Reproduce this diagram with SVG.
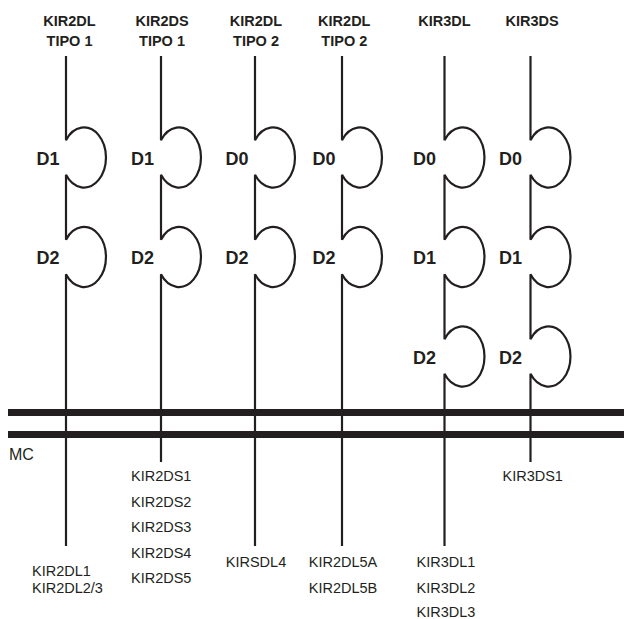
<svg xmlns="http://www.w3.org/2000/svg" width="624" height="619" viewBox="0 0 624 619">
<style>
.bg{fill:#fff}
.ln{fill:none;stroke:#231f20;stroke-width:2.2}
.bar{fill:#231f20}
.hd{font-family:"Liberation Sans",Arial,sans-serif;font-weight:bold;font-size:14.5px;fill:#231f20;text-anchor:middle}
.dm{font-family:"Liberation Sans",Arial,sans-serif;font-weight:bold;font-size:18px;fill:#231f20;text-anchor:end}
.lb{font-family:"Liberation Sans",Arial,sans-serif;font-size:14.5px;fill:#231f20;text-anchor:middle}
.mc{font-family:"Liberation Sans",Arial,sans-serif;font-size:16px;fill:#231f20}
</style>
<rect class="bg" x="0" y="0" width="624" height="619"/>
<g id="membrane">
<rect class="bar" x="8" y="409" width="616" height="7"/>
<rect class="bar" x="8" y="431" width="616" height="7"/>
<text class="mc" x="9" y="459.5">MC</text>
</g>
<g id="connectors"></g>
<g id="kir2dl-tipo1">
<text class="hd" x="69.5" y="26">KIR2DL</text>
<text class="hd" x="69.5" y="46">TIPO 1</text>
<path class="ln" d="M66,56 V140.2 A22,30 0 1 1 66,174.8 V239.7 A22,30 0 1 1 66,274.3 V546"/>
<text class="dm" x="59.5" y="164.5">D1</text>
<text class="dm" x="59.5" y="264">D2</text>
<text class="lb" x="32" y="576" style="text-anchor:start">KIR2DL1</text>
<text class="lb" x="32" y="592.7" style="text-anchor:start">KIR2DL2/3</text>
</g>
<g id="kir2ds-tipo1">
<text class="hd" x="162" y="26">KIR2DS</text>
<text class="hd" x="162" y="46">TIPO 1</text>
<path class="ln" d="M161,56 V140.2 A22,30 0 1 1 161,174.8 V239.7 A22,30 0 1 1 161,274.3 V462"/>
<text class="dm" x="154" y="164.5">D1</text>
<text class="dm" x="154" y="264">D2</text>
<text class="lb" x="161.2" y="481">KIR2DS1</text>
<text class="lb" x="161.2" y="506.7">KIR2DS2</text>
<text class="lb" x="161.2" y="532.2">KIR2DS3</text>
<text class="lb" x="161.2" y="557.8">KIR2DS4</text>
<text class="lb" x="161.2" y="583.3">KIR2DS5</text>
</g>
<g id="kir2dl-tipo2-a">
<text class="hd" x="256" y="26">KIR2DL</text>
<text class="hd" x="256" y="46">TIPO 2</text>
<path class="ln" d="M255,56 V140.2 A22,30 0 1 1 255,174.8 V239.7 A22,30 0 1 1 255,274.3 V546"/>
<text class="dm" x="248.5" y="164.5">D0</text>
<text class="dm" x="248.5" y="264">D2</text>
<text class="lb" x="256" y="566.8">KIRSDL4</text>
</g>
<g id="kir2dl-tipo2-b">
<text class="hd" x="344.3" y="26">KIR2DL</text>
<text class="hd" x="344.3" y="46">TIPO 2</text>
<path class="ln" d="M342,56 V140.2 A22,30 0 1 1 342,174.8 V239.7 A22,30 0 1 1 342,274.3 V546"/>
<text class="dm" x="335.5" y="164.5">D0</text>
<text class="dm" x="335.5" y="264">D2</text>
<text class="lb" x="343" y="567">KIR2DL5A</text>
<text class="lb" x="343" y="592.7">KIR2DL5B</text>
</g>
<g id="kir3dl">
<text class="hd" x="444.5" y="26">KIR3DL</text>
<path class="ln" d="M444.5,56 V140.2 A22,30 0 1 1 444.5,174.8 V239.7 A22,30 0 1 1 444.5,274.3 V339.2 A22,30 0 1 1 444.5,373.8 V546"/>
<text class="dm" x="436" y="164.5">D0</text>
<text class="dm" x="436" y="264">D1</text>
<text class="dm" x="436" y="363.5">D2</text>
<text class="lb" x="446" y="567">KIR3DL1</text>
<text class="lb" x="446" y="592.7">KIR3DL2</text>
<text class="lb" x="446" y="617">KIR3DL3</text>
</g>
<g id="kir3ds">
<text class="hd" x="532" y="26">KIR3DS</text>
<path class="ln" d="M530.5,56 V140.2 A22,30 0 1 1 530.5,174.8 V239.7 A22,30 0 1 1 530.5,274.3 V339.2 A22,30 0 1 1 530.5,373.8 V462"/>
<text class="dm" x="522" y="164.5">D0</text>
<text class="dm" x="522" y="264">D1</text>
<text class="dm" x="522" y="363.5">D2</text>
<text class="lb" x="532.7" y="481">KIR3DS1</text>
</g>
</svg>
